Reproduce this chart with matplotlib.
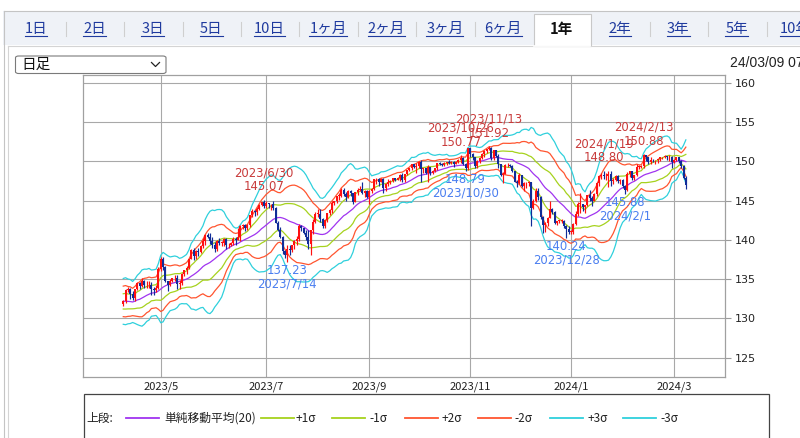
import numpy as np
import pandas as pd
import matplotlib
matplotlib.use("Agg")
import matplotlib.pyplot as plt
from matplotlib.patches import Rectangle, FancyBboxPatch
from matplotlib.lines import Line2D

W, H = 800, 438
CJK = ["Noto Sans CJK JP", "DejaVu Sans"]

# USD/JPY daily candles, weekdays 2023/3/13 - 2024/3/8
first_open = 134.9
highs = [
    135.1, 134.7, 135.1, 133.8, 133.8, 132.6, 132.6, 132.9, 131.7, 131.0, 131.8, 131.8, 132.9, 133.0, 133.4,
    133.8, 132.8, 131.9, 132.0, 132.4, 133.7, 134.0, 133.9, 133.5, 133.8, 134.6, 134.6, 135.1, 134.9, 134.8, 134.7, 134.6, 134.0, 134.2, 136.6,
    137.8, 137.8, 136.7, 134.8, 135.0, 135.2, 135.5, 135.5, 134.9, 135.8, 136.2, 136.7, 137.7, 138.8, 138.9, 138.7, 138.9, 139.4, 140.2, 140.7, 140.9, 140.9, 140.3,
    139.7, 140.0, 140.2, 139.9, 140.2, 140.2, 139.6, 139.7, 140.3, 140.3, 141.5, 141.9, 142.0, 142.0, 142.0, 143.2, 143.9, 143.8, 144.2, 144.6, 144.8, 145.07,
    144.9, 144.7, 144.6, 144.9, 144.2, 142.4, 141.6, 140.5, 138.7, 139.3, 139.4, 139.4, 140.0, 140.5, 142.0, 141.9, 141.5, 141.3, 141.3, 141.2, 142.6,
    143.5, 143.9, 143.9, 142.8, 142.6, 143.4, 143.9, 144.9, 145.0, 145.6, 145.9, 146.6, 146.6, 146.1, 146.3, 146.4, 146.0, 146.1, 146.6, 146.8, 147.4, 146.3, 146.4,
    146.3, 146.6, 147.8, 147.9, 147.9, 147.9, 147.9, 147.2, 147.7, 147.6, 147.9, 147.9, 148.0, 148.4, 148.5, 148.4, 148.9, 149.2, 149.7, 149.7, 149.8,
    150.0, 150.2, 149.2, 149.2, 149.5, 149.3, 148.9, 149.2, 149.8, 149.9, 149.8, 149.9, 149.9, 150.1, 150.0, 150.0, 150.0, 150.3, 150.77, 150.5, 149.8, 151.7,
    151.7, 151.0, 150.6, 150.2, 150.6, 151.0, 151.4, 151.6, 151.92, 151.8, 151.4, 151.4, 150.9, 149.7, 148.6, 149.7, 149.8, 149.7, 149.5, 148.8, 147.6, 148.5,
    148.3, 147.4, 147.4, 147.5, 147.4, 145.2, 146.6, 146.6, 145.6, 143.0, 142.3, 142.9, 144.9, 144.0, 143.7, 142.4, 142.5, 142.6, 142.5, 141.9, 141.7,
    141.3, 142.2, 143.7, 144.8, 145.98, 144.6, 144.4, 145.7, 146.4, 145.6, 145.9, 147.3, 148.3, 148.5, 148.8, 148.5, 148.7, 148.7, 147.9, 148.3, 148.3, 147.8, 147.8,
    147.0, 148.6, 148.8, 148.8, 148.3, 149.6, 149.5, 149.5, 150.88, 150.8, 150.6, 150.5, 150.3, 150.2, 150.4, 150.6, 150.6, 150.8, 150.7, 150.8, 150.7,
    150.3, 150.6, 150.6, 150.1, 149.5, 148.1,
]
lows = [
    132.3, 132.8, 132.9, 131.7, 131.6, 130.6, 131.0, 131.2, 130.4, 129.6, 130.5, 130.4, 130.9, 132.1, 132.3,
    132.3, 131.4, 130.6, 130.9, 131.6, 132.0, 133.3, 132.5, 132.4, 132.2, 133.6, 133.8, 134.0, 133.9, 133.9, 133.9, 133.0, 133.0, 133.3, 133.7,
    136.0, 136.2, 134.6, 133.5, 134.1, 134.6, 134.8, 133.8, 133.7, 134.3, 135.4, 135.6, 136.3, 137.5, 137.4, 137.6, 138.0, 138.3, 139.0, 139.4, 140.2, 139.5, 138.9,
    138.4, 138.6, 139.4, 139.2, 139.2, 138.8, 139.0, 139.2, 139.4, 139.3, 140.0, 139.9, 141.4, 141.1, 141.2, 141.6, 142.9, 143.0, 143.2, 143.8, 144.3, 144.1,
    144.0, 144.1, 143.8, 143.8, 142.1, 141.1, 140.2, 138.2, 137.7, 137.23, 138.1, 138.4, 138.8, 139.4, 139.8, 141.1, 140.7, 140.0, 138.8, 138.1, 140.7,
    142.2, 142.9, 142.3, 141.5, 141.5, 142.3, 143.1, 143.4, 144.4, 144.7, 145.1, 145.5, 145.6, 144.9, 145.3, 145.6, 144.5, 144.8, 145.7, 146.2, 145.8, 145.5, 145.3,
    144.5, 146.0, 146.3, 147.1, 146.9, 147.3, 145.9, 146.2, 146.9, 147.1, 147.3, 147.5, 147.6, 147.5, 147.3, 147.4, 148.3, 148.7, 148.9, 149.1, 148.5,
    149.2, 147.4, 148.5, 148.4, 147.3, 148.2, 148.4, 148.6, 148.9, 149.5, 149.4, 149.4, 149.5, 149.6, 149.6, 149.3, 149.6, 149.8, 149.8, 149.5, 148.79, 148.9,
    150.6, 150.2, 149.2, 149.2, 149.8, 150.3, 150.6, 151.1, 151.4, 150.2, 150.1, 150.6, 149.2, 148.1, 147.2, 148.4, 149.3, 149.3, 148.6, 147.3, 146.7, 147.1,
    146.7, 146.2, 146.6, 146.9, 141.7, 143.9, 144.8, 145.1, 142.7, 140.9, 141.0, 141.8, 142.8, 143.3, 142.0, 141.9, 142.2, 142.1, 141.5, 140.24, 140.8,
    140.8, 140.8, 141.9, 143.0, 143.4, 143.7, 143.4, 144.3, 144.9, 144.3, 144.9, 145.6, 146.9, 147.7, 147.7, 147.6, 146.7, 146.9, 147.1, 147.5, 147.2, 147.1, 146.6,
    145.88, 146.2, 148.0, 147.6, 147.6, 148.1, 149.0, 149.1, 149.2, 150.0, 149.6, 149.7, 149.9, 149.7, 149.8, 150.0, 150.3, 150.4, 150.2, 150.0, 149.2,
    149.8, 150.0, 149.8, 149.1, 147.7, 146.5,
]
closes = [
    133.2, 134.2, 133.4, 133.7, 131.8, 131.3, 132.5, 131.5, 130.8, 130.7, 131.5, 130.9, 132.8, 132.7, 132.8,
    132.5, 131.7, 131.3, 131.8, 132.2, 133.6, 133.7, 133.1, 132.6, 133.8, 134.5, 134.1, 134.7, 134.2, 134.2, 134.3, 133.7, 133.6, 133.9, 136.3,
    137.5, 136.5, 134.7, 134.3, 134.8, 135.1, 135.2, 134.4, 134.5, 135.7, 136.1, 136.4, 137.6, 138.7, 137.9, 138.6, 138.5, 139.2, 139.9, 140.6, 140.4, 139.8, 139.3,
    138.8, 139.9, 139.6, 139.6, 140.1, 139.3, 139.4, 139.6, 140.1, 140.0, 140.3, 141.8, 141.9, 141.5, 141.9, 143.1, 143.7, 143.5, 143.9, 144.4, 144.8, 144.3,
    144.7, 144.5, 144.6, 144.1, 142.2, 141.3, 140.4, 138.6, 138.1, 138.8, 138.7, 139.3, 139.8, 140.1, 141.8, 141.5, 140.9, 140.3, 139.5, 141.2, 142.3,
    143.3, 143.3, 142.6, 141.8, 142.5, 143.4, 143.8, 144.7, 144.9, 145.6, 145.6, 146.4, 145.8, 145.4, 146.2, 145.9, 144.8, 146.1, 146.4, 146.5, 145.9, 146.2, 145.5,
    146.2, 146.5, 147.7, 147.7, 147.3, 147.8, 146.6, 147.1, 147.4, 147.5, 147.9, 147.6, 147.9, 148.3, 147.6, 148.4, 148.9, 149.1, 149.6, 149.3, 149.4,
    149.9, 149.0, 149.1, 148.5, 149.3, 148.5, 148.7, 149.1, 149.8, 149.6, 149.5, 149.8, 149.9, 149.8, 149.9, 149.7, 149.9, 150.2, 150.4, 149.6, 149.1, 151.7,
    150.9, 150.5, 149.4, 150.0, 150.4, 150.9, 151.3, 151.5, 151.7, 150.4, 151.4, 150.7, 149.6, 148.3, 148.4, 149.5, 149.5, 149.4, 148.7, 147.4, 147.2, 148.2,
    146.8, 147.2, 147.2, 147.3, 144.1, 144.9, 146.2, 145.4, 142.9, 141.9, 142.2, 142.8, 143.9, 143.5, 142.1, 142.4, 142.4, 142.4, 141.8, 141.4, 141.0,
    141.0, 142.0, 143.3, 144.6, 144.6, 144.2, 144.4, 145.7, 145.3, 144.9, 145.8, 147.2, 148.1, 148.2, 148.1, 148.1, 148.4, 147.5, 147.6, 148.1, 147.5, 147.6, 146.9,
    146.4, 148.4, 148.7, 147.9, 148.2, 149.3, 149.3, 149.4, 150.8, 150.6, 149.9, 150.2, 150.1, 150.1, 150.3, 150.5, 150.5, 150.7, 150.5, 150.6, 149.9,
    150.1, 150.5, 150.0, 149.4, 147.9, 147.0,
]

peak_dates = ["2023/6/30", "2023/10/26", "2023/11/13", "2024/1/19", "2024/2/13"]
peak_values = [145.07, 150.77, 151.92, 148.80, 150.88]
trough_dates = ["2023/7/14", "2023/10/30", "2023/12/28", "2024/2/1"]
trough_values = [137.23, 148.79, 140.24, 145.88]

tab_labels = ["1日", "2日", "3日", "5日", "10日", "1ヶ月", "2ヶ月", "3ヶ月", "6ヶ月",
              "1年", "2年", "3年", "5年", "10年"]
selected_tab = "1年"
legend_labels = ["単純移動平均(20)", "+1σ", "-1σ", "+2σ", "-2σ", "+3σ", "-3σ"]

dates = pd.bdate_range("2023-03-13", "2024-03-08")
assert len(dates) == len(closes) == len(highs) == len(lows)

# FX candles open at the previous close
opens = np.array([first_open] + closes[:-1])
highs = np.array(highs)
lows = np.array(lows)
closes_s = pd.Series(closes)
closes = np.array(closes)

ma = closes_s.rolling(20).mean()
sd = closes_s.rolling(20).std(ddof=0)

C_MA = "#a034f0"
C_1 = "#a6d21e"
C_2 = "#ff5530"
C_3 = "#2fd0dc"
UP = "#ff1010"
DOWN = "#102c98"

fig = plt.figure(figsize=(8, 4.38), dpi=100)
fig.patch.set_facecolor("white")


def fx(x):
    return x / W


def fy(y):
    return 1 - y / H


def fline(xs, ys, **kw):
    fig.add_artist(Line2D([fx(v) for v in xs], [fy(v) for v in ys],
                          transform=fig.transFigure, **kw))


# page frame and tab bar
fig.add_artist(Rectangle((fx(3), fy(45)), fx(800) - fx(3), (45 - 11) / H,
                         facecolor="#eff2f7", edgecolor="none", transform=fig.transFigure))
fline([3.5, 800], [10.5, 10.5], color="#c4c4c4", lw=0.8)
fline([3.5, 3.5], [10.5, 438], color="#c4c4c4", lw=0.8)
fline([7.5, 800], [45.5, 45.5], color="#d4d4d4", lw=0.8)
fline([7.5, 7.5], [45.5, 438], color="#d4d4d4", lw=0.8)

sel = tab_labels.index(selected_tab)
sx = 36 + 58.4 * sel
fig.add_artist(Rectangle((fx(sx - 28), fy(46)), 57 / W, 32 / H, facecolor="white",
                         edgecolor="#c8c8c8", lw=0.8, transform=fig.transFigure))
fline([sx - 27.5, sx + 28.5], [45.9, 45.9], color="white", lw=1.2)

tab_texts = []
for i, lab in enumerate(tab_labels):
    cx = 36 + 58.4 * i
    if i == sel:
        fig.text(fx(cx), fy(29), lab, ha="center", va="center", fontsize=10.5,
                 family=CJK, color="#111111", fontweight="bold")
    else:
        t = fig.text(fx(cx), fy(29), lab, ha="center", va="center", fontsize=10.5,
                     family=CJK, color="#1f3a9e")
        tab_texts.append(t)
    if i < len(tab_labels) - 1 and i not in (sel - 1, sel):
        mx = cx + 29.7
        fline([mx, mx], [22, 36], color="#cfcfcf", lw=0.8)

fig.canvas.draw()
renderer = fig.canvas.get_renderer()
for t in tab_texts:
    bb = t.get_window_extent(renderer)
    fline([bb.x0, bb.x1], [35.5, 35.5], color="#1f3a9e", lw=0.8)

# period selector and timestamp
fig.add_artist(FancyBboxPatch((fx(15.5), fy(73.5)), 150.5 / W, 17.5 / H,
                              boxstyle="round,pad=0,rounding_size=0.004",
                              facecolor="white", edgecolor="#7a7a7a", lw=0.8,
                              transform=fig.transFigure))
fig.text(fx(21), fy(64.5), "日足", ha="left", va="center", fontsize=10.5,
         family=CJK, color="#111111")
fline([151.5, 155.5, 159.5], [62.5, 66.5, 62.5], color="#222222", lw=0.9)
fig.text(fx(730), fy(63), "24/03/09 07:00", ha="left", va="center", fontsize=10,
         family=["Liberation Sans", "DejaVu Sans"], color="#222222")

# chart
ax = fig.add_axes([fx(82.7), fy(377), (725 - 82.7) / W, (377 - 75) / H])
ax.set_xlim(1.7, 275.7)
ax.set_ylim(122.54, 160.98)

x = np.arange(len(dates))
vis = x >= 19
xv = x[vis]

for band, color in [(ma + 3 * sd, C_3), (ma - 3 * sd, C_3),
                    (ma + 2 * sd, C_2), (ma - 2 * sd, C_2),
                    (ma + 1 * sd, C_1), (ma - 1 * sd, C_1), (ma, C_MA)]:
    ax.plot(xv, band.values[vis], color=color, lw=0.9, zorder=2)

o, h, l, c = opens[vis], highs[vis], lows[vis], closes[vis]
up = c >= o
for m, color in [(up, UP), (~up, DOWN)]:
    ax.vlines(xv[m], l[m], h[m], color=color, lw=0.85, zorder=3)
    body = np.maximum(np.abs(c[m] - o[m]), 0.08)
    ax.bar(xv[m], body, bottom=np.minimum(o[m], c[m]), width=0.85, color=color,
           lw=0, zorder=4)

for d, v in zip(peak_dates, peak_values):
    i = dates.get_loc(pd.Timestamp(d.replace("/", "-")))
    ax.annotate(f"{v:.2f}", (i, v), xytext=(0, 13), textcoords="offset pixels",
                ha="center", va="center", fontsize=8.4, color="#c83a3a", zorder=6)
    ax.annotate(d, (i, v), xytext=(0, 27), textcoords="offset pixels",
                ha="center", va="center", fontsize=8.4, color="#c83a3a", zorder=6)
for d, v in zip(trough_dates, trough_values):
    i = dates.get_loc(pd.Timestamp(d.replace("/", "-")))
    ax.annotate(f"{v:.2f}", (i, v), xytext=(0, -9), textcoords="offset pixels",
                ha="center", va="center", fontsize=8.4, color="#4a7ef0", zorder=6)
    ax.annotate(d, (i, v), xytext=(0, -22), textcoords="offset pixels",
                ha="center", va="center", fontsize=8.4, color="#4a7ef0", zorder=6)

# month ticks
tick_pos, tick_lab = [], []
for y, mth in [(2023, 5), (2023, 7), (2023, 9), (2023, 11), (2024, 1), (2024, 3)]:
    idx = np.where((dates.year == y) & (dates.month == mth))[0][0]
    tick_pos.append(idx)
    tick_lab.append(f"{y}/{mth}")
ax.set_xticks(tick_pos)
ax.set_xticklabels(tick_lab, family=CJK, fontsize=8, color="#222222")
ax.tick_params(axis="x", length=0, pad=3.5)

ax.yaxis.tick_right()
ax.set_yticks(np.arange(125, 161, 5))
ax.tick_params(axis="y", length=4.5, width=0.8, color="#9a9a9a", pad=2.5,
               labelsize=8, labelcolor="#222222")

ax.grid(color="#a8a8a8", lw=0.8, zorder=0)
ax.set_axisbelow(True)
for s in ax.spines.values():
    s.set_color("#a0a0a0")
    s.set_linewidth(0.9)

# legend box
fig.add_artist(Rectangle((fx(83.6), fy(450)), (769 - 83.6) / W, (450 - 393.5) / H,
                         facecolor="white", edgecolor="#444444", lw=0.9,
                         transform=fig.transFigure))
fig.text(fx(86), fy(418), "上段:", ha="left", va="center", fontsize=8.5,
         family=CJK, color="#222222")
leg_colors = [C_MA, C_1, C_1, C_2, C_2, C_3, C_3]
leg_line_x = [125.6, 260.5, 332, 405, 478, 550, 623]
leg_text_x = [164, 296, 369, 442, 514, 588, 660]
for lab, col, lx, tx in zip(legend_labels, leg_colors, leg_line_x, leg_text_x):
    fline([lx, lx + 33], [418, 418], color=col, lw=1.3)
    fig.text(fx(tx), fy(418), lab, ha="left", va="center", fontsize=8.5,
             family=CJK, color="#222222")

fig.savefig("out.png", dpi=100)
